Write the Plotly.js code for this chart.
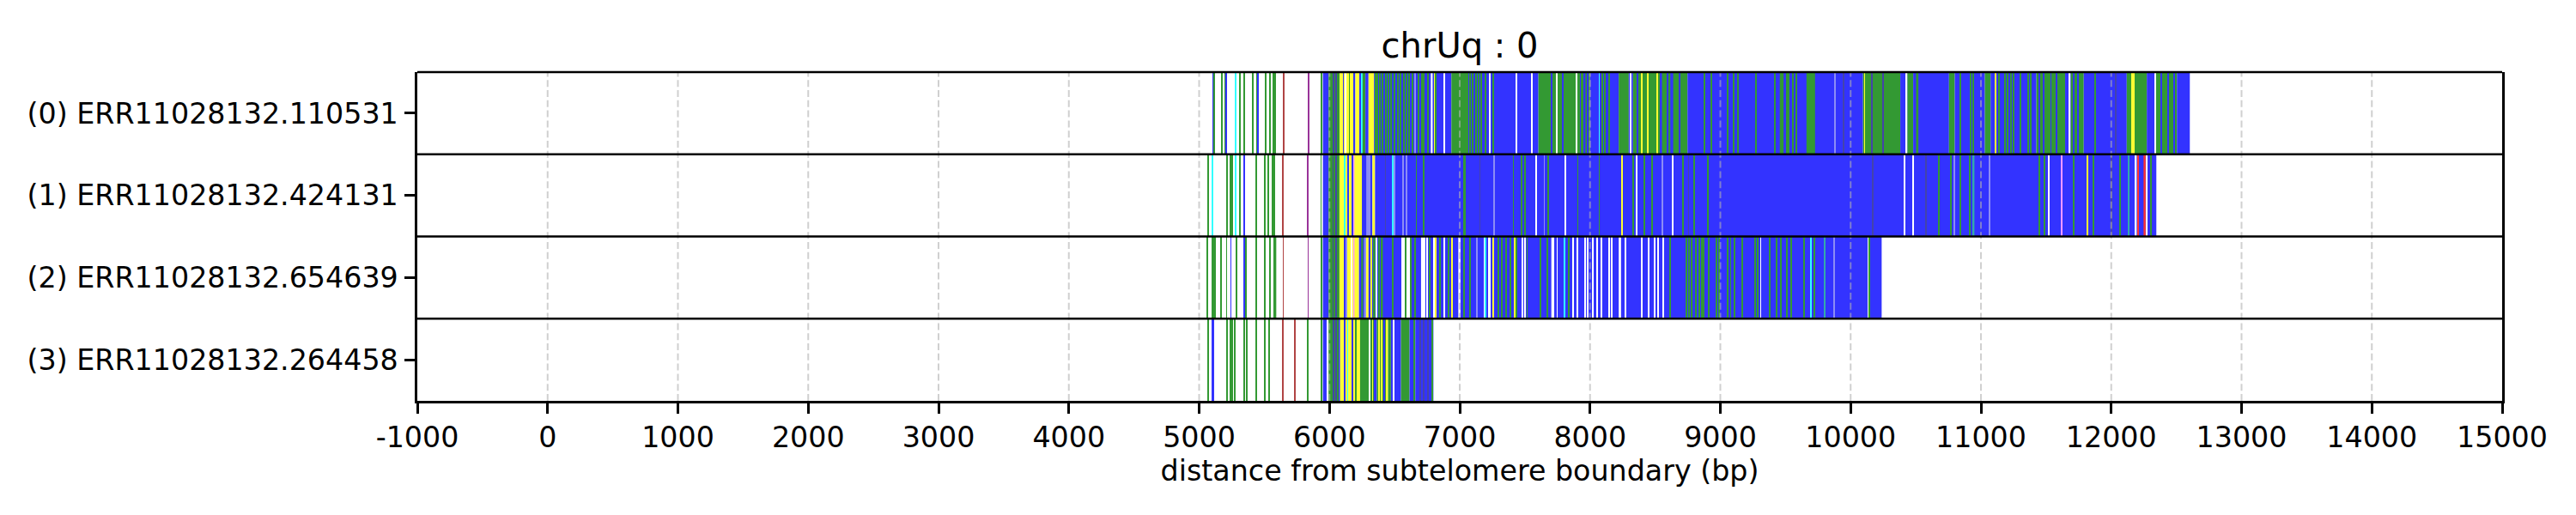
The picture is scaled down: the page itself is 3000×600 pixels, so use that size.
<!DOCTYPE html>
<html>
<head>
<meta charset="utf-8">
<script src="https://cdn.plot.ly/plotly-3.0.1.min.js"></script>
<style>
  html, body { margin: 0; padding: 0; background: #fff; }
</style>
</head>
<body>
<div id="chart" style="width:3000px;height:600px;"></div>
<script>
// read names, top row first
var readLabels = [
    "(0) ERR11028132.110531",
    "(1) ERR11028132.424131",
    "(2) ERR11028132.654639",
    "(3) ERR11028132.264458",
];
var xTicks = [-1000, 0, 1000, 2000, 3000, 4000, 5000, 6000, 7000, 8000, 9000, 10000, 11000, 12000, 13000, 14000, 15000];

// colour codes used by the segments (alpha 0.8 on white, as in the original)
var colorCodes = {
    B: "#3333ff", // blue
    G: "#339933", // green
    Y: "#ffff33", // yellow
    C: "#33ffff", // cyan
    R: "#ff3333", // red
    P: "#993399", // purple
    N: "#b04444", // brown
    W: "#ffffff", // white
    L: "#8c8cf5", // lavender
    D: "#4444aa", // dark
    T: "#33aaaa", // teal
    K: "#ff99ff", // pink
};

// segments per read: [start bp, end bp, colour code], later ones drawn on top
var read0 = [
    [5950, 5993, "B"], [5993, 6078, "G"], [6078, 6188, "Y"], [6188, 6199, "B"], [6199, 6232, "Y"],
    [6232, 6243, "B"], [6243, 6254, "C"], [6254, 6276, "G"], [6276, 6300, "B"], [6300, 6342, "Y"],
    [6342, 6936, "B"], [6936, 7066, "G"], [7066, 7604, "B"], [7604, 8000, "G"], [8000, 8220, "B"],
    [8220, 8297, "G"], [8297, 8330, "B"], [8330, 8748, "G"], [8748, 10095, "B"], [9456, 9485, "G"],
    [9661, 9727, "G"], [10095, 10381, "G"], [10381, 10436, "B"], [10436, 10480, "G"], [10480, 10755, "B"],
    [10502, 10520, "G"], [10755, 10799, "G"], [10799, 11030, "B"], [11030, 11074, "G"], [11074, 11426, "B"],
    [11426, 11646, "G"], [11646, 11690, "B"], [11690, 11789, "G"], [11789, 12119, "B"], [12119, 12273, "G"],
    [12273, 12339, "B"], [12339, 12504, "G"], [12504, 12603, "B"],
    [5103, 5110, "B"], [5110, 5116, "G"], [5169, 5175, "G"], [5195, 5201, "G"], [5206, 5212, "B"],
    [5279, 5285, "C"], [5309, 5315, "G"], [5342, 5348, "G"], [5411, 5417, "G"], [5442, 5448, "G"],
    [5448, 5454, "B"], [5510, 5516, "G"], [5543, 5549, "G"], [5565, 5571, "G"], [5583, 5589, "G"],
    [5648, 5654, "N"], [5840, 5846, "P"], [5935, 5941, "G"],
    [6028, 6033, "D"], [6050, 6055, "D"], [6104, 6109, "B"], [6122, 6130, "W"], [6150, 6155, "G"],
    [6350, 6358, "G"], [6362, 6370, "G"], [6384, 6392, "G"], [6406, 6414, "G"], [6428, 6438, "G"],
    [6448, 6456, "G"], [6472, 6480, "G"], [6494, 6502, "G"], [6521, 6530, "G"], [6543, 6550, "G"],
    [6569, 6578, "G"], [6587, 6594, "G"], [6609, 6616, "G"], [6635, 6642, "G"], [6657, 6663, "L"],
    [6683, 6690, "G"], [6705, 6712, "G"], [6723, 6730, "G"], [6756, 6763, "G"],
    [6778, 6792, "W"], [6806, 6812, "Y"], [6815, 6822, "G"], [6880, 6886, "W"],
    [7075, 7083, "G"], [7097, 7105, "G"], [7119, 7127, "G"], [7141, 7149, "G"], [7163, 7171, "G"],
    [7196, 7204, "G"], [7229, 7235, "W"], [7251, 7259, "G"], [7433, 7439, "W"], [7550, 7557, "W"],
    [7701, 7708, "B"], [7741, 7747, "W"], [7789, 7795, "B"], [7895, 7901, "W"], [7923, 7929, "B"],
    [7955, 7965, "B"], [7977, 7983, "B"],
    [8068, 8074, "C"], [8092, 8098, "G"], [8108, 8114, "G"], [8141, 8147, "G"], [8306, 8318, "W"],
    [8360, 8366, "B"], [8394, 8400, "Y"], [8438, 8444, "Y"], [8511, 8517, "Y"], [8540, 8552, "B"],
    [8592, 8598, "B"], [8616, 8638, "B"], [8684, 8690, "B"],
    [8874, 8880, "G"], [8927, 8933, "G"], [9054, 9060, "G"], [9098, 9104, "G"], [9131, 9137, "G"],
    [9270, 9276, "G"], [9417, 9423, "G"], [9509, 9515, "G"], [9523, 9529, "G"], [9556, 9562, "G"],
    [9582, 9588, "G"], [9879, 9885, "L"], [9945, 9951, "D"],
    [10104, 10110, "Y"], [10159, 10164, "D"], [10247, 10252, "D"], [10423, 10430, "W"], [10841, 10847, "G"],
    [10918, 10924, "G"], [10940, 10946, "G"],
    [11109, 11115, "Y"], [11138, 11144, "G"], [11182, 11188, "G"], [11204, 11210, "G"], [11226, 11232, "G"],
    [11248, 11254, "G"], [11303, 11309, "G"], [11358, 11364, "G"], [11380, 11386, "G"],
    [11446, 11452, "B"], [11479, 11485, "B"], [11534, 11540, "B"], [11578, 11584, "B"], [11677, 11684, "W"],
    [11710, 11716, "B"], [11743, 11749, "B"], [11875, 11881, "G"], [12029, 12035, "D"], [12154, 12160, "Y"],
    [12172, 12178, "Y"], [12333, 12339, "W"], [12381, 12387, "B"], [12436, 12442, "B"], [12480, 12486, "B"],
];

var read1 = [
    [5950, 5993, "B"], [5993, 6077, "G"], [6077, 6186, "Y"], [6186, 6192, "K"], [6192, 6249, "Y"],
    [6249, 6286, "B"], [6286, 6319, "L"], [6319, 6330, "B"], [6330, 6350, "Y"], [6350, 12346, "B"],
    [5066, 5072, "G"], [5097, 5103, "C"], [5212, 5218, "G"], [5238, 5244, "G"], [5249, 5255, "G"],
    [5278, 5284, "C"], [5311, 5317, "G"], [5344, 5350, "B"], [5436, 5442, "G"], [5502, 5508, "G"],
    [5528, 5534, "G"], [5559, 5565, "G"], [5572, 5578, "G"], [5641, 5647, "N"], [5832, 5838, "P"],
    [5933, 5939, "G"],
    [6025, 6030, "D"], [6050, 6055, "D"], [6115, 6121, "C"], [6141, 6146, "B"], [6174, 6179, "B"],
    [6427, 6433, "D"], [6485, 6490, "C"], [6494, 6500, "L"], [6565, 6571, "L"], [6588, 6594, "L"],
    [6664, 6670, "G"], [6719, 6725, "G"], [7031, 7037, "G"], [7040, 7045, "G"], [7152, 7158, "D"],
    [7258, 7264, "L"], [7409, 7415, "G"], [7471, 7477, "G"], [7499, 7505, "G"], [7580, 7587, "W"],
    [7646, 7652, "L"], [7675, 7681, "G"], [7807, 7814, "W"], [7903, 7909, "G"], [8068, 8074, "G"],
    [8240, 8246, "Y"], [8328, 8334, "G"], [8354, 8361, "W"], [8416, 8422, "G"], [8471, 8477, "G"],
    [8555, 8561, "L"], [8629, 8636, "W"], [8709, 8715, "G"], [8753, 8759, "D"], [8794, 8800, "G"],
    [8900, 8906, "G"],
    [10166, 10172, "D"], [10412, 10419, "W"], [10478, 10485, "W"], [10577, 10583, "D"], [10676, 10682, "G"],
    [10768, 10774, "G"], [10793, 10799, "L"], [10841, 10847, "G"], [10914, 10920, "G"], [10938, 10950, "T"],
    [11063, 11069, "L"], [11446, 11452, "G"], [11483, 11489, "G"], [11519, 11526, "W"], [11613, 11620, "K"],
    [11710, 11716, "G"], [11816, 11822, "Y"], [11860, 11866, "G"], [11996, 12002, "D"], [12066, 12072, "G"],
    [12128, 12134, "T"], [12183, 12195, "W"], [12204, 12211, "R"], [12248, 12264, "R"], [12267, 12273, "W"],
    [12299, 12305, "G"],
];

var read2 = [
    [5950, 5993, "B"], [5993, 6077, "G"], [6077, 6187, "Y"], [6187, 6192, "K"], [6192, 6227, "Y"],
    [6227, 10238, "B"],
    [6244, 6258, "G"], [6266, 6282, "L"], [6288, 6300, "Y"], [6318, 6326, "Y"], [6340, 6352, "G"],
    [6360, 6366, "W"], [6376, 6384, "G"], [6400, 6410, "G"],
    [5058, 5064, "G"], [5101, 5107, "G"], [5109, 5115, "G"], [5120, 5126, "G"], [5164, 5170, "G"],
    [5208, 5214, "G"], [5241, 5247, "B"], [5281, 5287, "G"], [5340, 5346, "B"], [5355, 5361, "G"],
    [5438, 5444, "G"], [5504, 5510, "G"], [5540, 5546, "G"], [5570, 5576, "G"], [5580, 5592, "G"],
    [5643, 5649, "N"], [5834, 5840, "P"], [5936, 5942, "G"],
    [6025, 6030, "D"], [6050, 6055, "D"], [6115, 6121, "B"], [6130, 6136, "L"], [6164, 6170, "W"],
    [6481, 6487, "G"], [6558, 6564, "W"], [6569, 6575, "W"], [6580, 6586, "G"], [6595, 6601, "W"],
    [6609, 6615, "W"], [6624, 6630, "G"], [6657, 6663, "G"], [6703, 6736, "W"], [6745, 6751, "W"],
    [6767, 6773, "G"], [6800, 6806, "W"], [6811, 6817, "Y"], [6844, 6850, "G"], [6877, 6883, "W"],
    [6910, 6916, "G"], [6939, 6945, "Y"], [6989, 7006, "W"], [7027, 7033, "G"], [7075, 7081, "G"],
    [7130, 7136, "L"], [7185, 7191, "W"], [7196, 7202, "C"], [7218, 7224, "W"], [7229, 7235, "W"],
    [7252, 7262, "Y"], [7295, 7301, "G"], [7317, 7323, "G"], [7350, 7356, "G"], [7383, 7389, "G"],
    [7419, 7425, "Y"], [7429, 7435, "G"],
    [7481, 7487, "W"], [7499, 7505, "W"], [7514, 7520, "G"], [7617, 7623, "G"], [7668, 7674, "G"],
    [7703, 7725, "W"], [7745, 7751, "W"], [7800, 7806, "C"], [7833, 7839, "G"], [7866, 7872, "W"],
    [7899, 7905, "W"], [7961, 7967, "W"], [7976, 7982, "W"], [8020, 8026, "W"], [8053, 8059, "W"],
    [8086, 8092, "W"], [8141, 8147, "W"], [8163, 8169, "W"], [8220, 8238, "W"], [8269, 8275, "W"],
    [8394, 8400, "W"], [8449, 8455, "W"], [8493, 8499, "W"], [8519, 8525, "W"], [8559, 8565, "W"],
    [8610, 8616, "G"],
    [8735, 8745, "G"], [8757, 8765, "G"], [8779, 8787, "G"], [8812, 8820, "G"], [8834, 8842, "G"],
    [8856, 8862, "G"], [8867, 8875, "G"], [8911, 8918, "G"], [8966, 8972, "G"], [8988, 8994, "G"],
    [9054, 9060, "G"], [9076, 9082, "G"], [9105, 9111, "G"], [9164, 9170, "G"], [9263, 9269, "G"],
    [9285, 9291, "G"], [9307, 9313, "W"], [9373, 9379, "G"], [9428, 9434, "G"], [9461, 9467, "G"],
    [9505, 9511, "G"], [9538, 9544, "G"], [9637, 9643, "G"], [9692, 9698, "C"], [9721, 9727, "G"],
    [9798, 9804, "T"], [9868, 9874, "L"],
    [10136, 10142, "W"], [10142, 10146, "G"],
];

var read3 = [
    [5950, 5993, "B"], [5993, 6073, "G"], [6073, 6081, "B"], [6081, 6235, "Y"], [6235, 6341, "G"],
    [6341, 6363, "B"], [6363, 6439, "G"], [6439, 6450, "Y"], [6450, 6472, "G"], [6472, 6549, "B"],
    [6549, 6615, "G"], [6615, 6648, "B"], [6648, 6659, "G"], [6659, 6798, "B"],
    [5068, 5074, "G"], [5096, 5101, "B"], [5104, 5109, "B"], [5213, 5219, "G"], [5239, 5245, "G"],
    [5250, 5256, "G"], [5272, 5278, "G"], [5342, 5348, "G"], [5360, 5366, "G"], [5437, 5443, "G"],
    [5503, 5509, "G"], [5536, 5542, "G"], [5639, 5645, "N"], [5729, 5735, "N"], [5833, 5839, "G"],
    [5936, 5942, "G"],
    [5983, 5989, "W"], [6028, 6033, "D"], [6050, 6055, "D"], [6115, 6121, "B"], [6137, 6143, "C"],
    [6174, 6180, "B"], [6198, 6204, "G"], [6306, 6312, "W"], [6328, 6334, "Y"], [6378, 6384, "Y"],
    [6398, 6404, "Y"], [6418, 6426, "B"], [6492, 6498, "W"], [6696, 6702, "D"], [6723, 6729, "D"],
    [6756, 6762, "D"], [6785, 6792, "G"],
];

var reads = [read0, read1, read2, read3];
var rowDomains = [[0.75, 1], [0.5, 0.75], [0.25, 0.5], [0, 0.25]];

var traces = [];
reads.forEach(function (segs, i) {
    traces.push({
        type: "bar",
        orientation: "h",
        y: segs.map(function () { return readLabels[i]; }),
        base: segs.map(function (s) { return s[0]; }),
        x: segs.map(function (s) { return s[1] - s[0]; }),
        width: 1,
        marker: {
            color: segs.map(function (s) { return colorCodes[s[2]]; }),
            line: { width: 0 },
        },
        xaxis: "x",
        yaxis: i === 0 ? "y" : "y" + (i + 1),
        hoverinfo: "skip",
    });
});

// dashed grid drawn over the bars, then the frame line on top of each row
var shapes = xTicks.slice(1, -1).map(function (t) {
    return {
        type: "line",
        xref: "x",
        yref: "paper",
        x0: t, x1: t, y0: 0, y1: 1,
        layer: "above",
        line: { color: "rgba(176,176,176,0.6)", width: 2, dash: "8px,3.8px" },
    };
});
rowDomains.forEach(function (d) {
    shapes.push({
        type: "line",
        xref: "paper",
        yref: "paper",
        x0: 0, x1: 1, y0: d[1], y1: d[1],
        layer: "above",
        line: { color: "#000", width: 2.67 },
    });
});

function rowAxis(d) {
    return {
        domain: d,
        anchor: "x",
        type: "category",
        range: [-0.5, 0.5],
        fixedrange: true,
        showline: true,
        linecolor: "#000",
        linewidth: 2.67,
        mirror: true,
        ticks: "outside",
        ticklen: 11.7,
        tickwidth: 2.67,
        tickcolor: "#000",
        showgrid: false,
        zeroline: false,
        tickfont: { size: 33.3, color: "#000" },
        ticklabelstandoff: 1,
    };
}

var layout = {
    width: 3000,
    height: 600,
    margin: { l: 486, r: 86, t: 84, b: 133 },
    paper_bgcolor: "#fff",
    plot_bgcolor: "#fff",
    font: { family: "DejaVu Sans", color: "#000" },
    barmode: "overlay",
    showlegend: false,
    title: {
        text: "chrUq : 0",
        font: { size: 40, color: "#000" },
        xref: "paper",
        x: 0.5,
        xanchor: "center",
        yref: "container",
        y: 1 - 53 / 600,
        yanchor: "middle",
    },
    xaxis: {
        anchor: "y4",
        range: [-1000, 15000],
        tickvals: xTicks,
        ticktext: xTicks.map(function (t) { return String(t); }),
        showline: true,
        linecolor: "#000",
        linewidth: 2.67,
        mirror: false,
        ticks: "outside",
        ticklen: 11.7,
        tickwidth: 2.67,
        tickcolor: "#000",
        showgrid: false,
        zeroline: false,
        fixedrange: true,
        tickfont: { size: 33.3, color: "#000" },
        title: {
            text: "distance from subtelomere boundary (bp)",
            font: { size: 33.3, color: "#000" },
            standoff: 8,
        },
    },
    yaxis: rowAxis(rowDomains[0]),
    yaxis2: rowAxis(rowDomains[1]),
    yaxis3: rowAxis(rowDomains[2]),
    yaxis4: rowAxis(rowDomains[3]),
    shapes: shapes,
};

Plotly.newPlot("chart", traces, layout, { displayModeBar: false, responsive: false });
</script>
</body>
</html>
